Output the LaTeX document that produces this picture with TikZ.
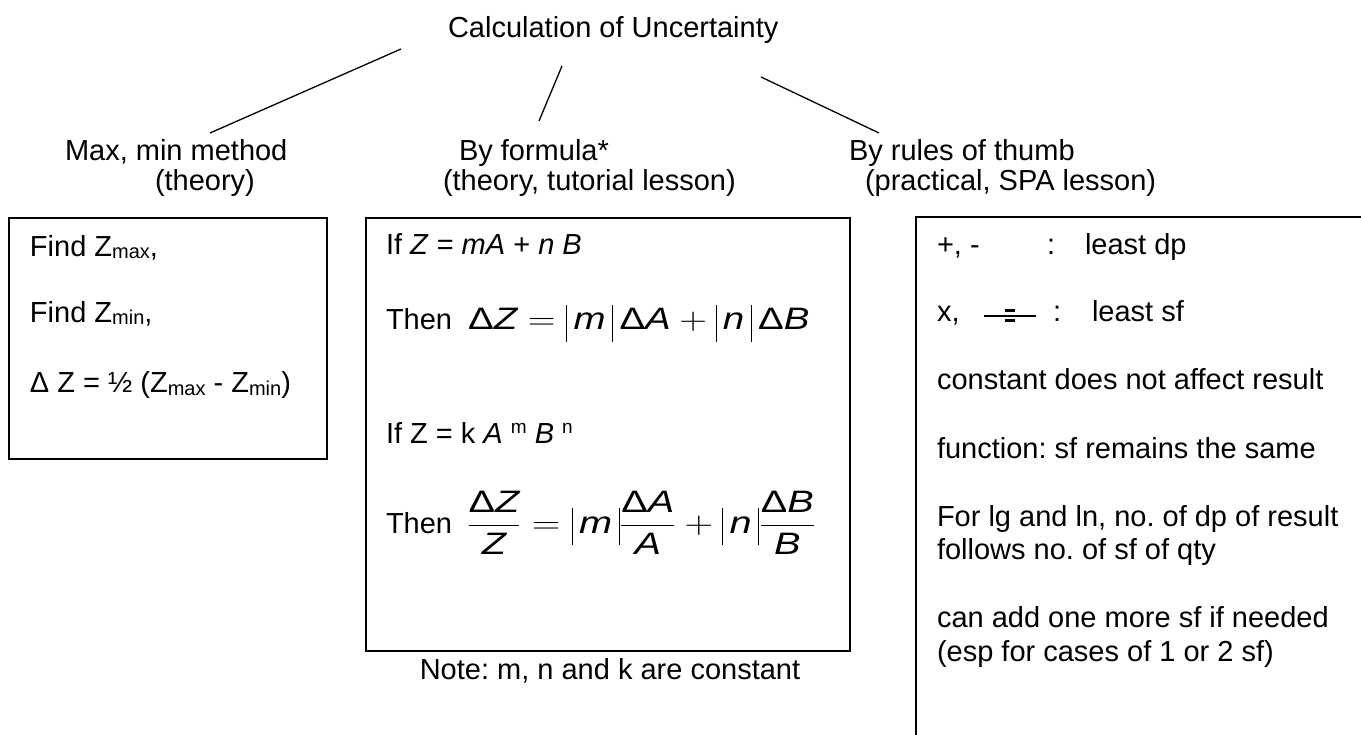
\RequirePackage{fix-cm}
\documentclass[tikz,border=0pt]{standalone}
\usepackage{graphicx}
\usepackage{fontspec}
\setmainfont{Liberation Sans}
\frenchspacing
\newcommand\sbs[1]{\raisebox{-2pt}{\fontsize{20}{20}\selectfont #1}}
\newcommand\sps[1]{\raisebox{10pt}{\fontsize{19}{19}\selectfont #1}}
\newcommand\It[1]{\hbox{\itshape #1}}
\newcommand\Dl{\hbox{Δ}}
\newcommand\vb{\rule[-12pt]{0.8pt}{37pt}}
\tikzset{
  txt/.style={inner sep=0pt, outer sep=0pt, anchor=base west, font=\fontsize{29}{33}\selectfont},
  boxst/.style={draw, line width=1.6pt, inner sep=0pt, anchor=north west},
  conn/.style={line width=1.3pt}
}
\begin{document}
\begin{tikzpicture}[x=1pt,y=-1pt]
\useasboundingbox (0,0) rectangle (1361,735);
% title and branch labels
\node[txt] (title) at (448,38) {Calculation of Uncertainty};
\node[txt] (maxmin) at (65,161) {Max, min method};
\node[txt] (maxmin2) at (155,191) {(theory)};
\node[txt] (formula) at (459,161) {By formula*};
\node[txt] (formula2) at (443,191) {(theory, tutorial lesson)};
\node[txt] (rules) at (849,161) {By rules of thumb};
\node[txt] (rules2) at (865,191) {(practical, SPA lesson)};
% connectors
\coordinate (c1a) at (401,49);  \coordinate (c1b) at (210,133);
\coordinate (c2a) at (562,66);  \coordinate (c2b) at (539,121);
\coordinate (c3a) at (761,77);  \coordinate (c3b) at (879,133);
\draw[conn] (c1a) -- (c1b);
\draw[conn] (c2a) -- (c2b);
\draw[conn] (c3a) -- (c3b);
% left box
\node[boxst, minimum width=318pt, minimum height=241pt] (boxL) at (8,217) {};
\node[txt] (l1) at (30,257) {Find Z\sbs{max},};
\node[txt] (l2) at (30,323) {Find Z\sbs{min},};
\node[txt] (l3) at (30,393) {Δ Z = ½ (Z\sbs{max} - Z\sbs{min})};
% middle box
\node[boxst, minimum width=484pt, minimum height=433pt] (boxM) at (365,217) {};
\node[txt] (m1) at (386,255) {If \textit{Z} = \textit{mA} + \textit{n B}};
\node[txt] (m2) at (386,330) {Then\hspace{16pt}\scalebox{1.24}[1]{\fontsize{31}{31}\selectfont $\Dl\It{Z}=\vb\,\It{m}\,\vb\,\Dl\It{A}+\vb\,\It{n}\,\vb\,\Dl\It{B}$}};
\node[txt] (m3) at (386,443) {If Z = k \textit{A} \sps{m} \textit{B} \sps{n}};
\node[txt] (m4) at (386,533) {Then\hspace{15pt}\scalebox{1.28}[1]{\fontsize{31}{31}\selectfont $\displaystyle\frac{\Dl\It{Z}}{\It{Z}}=\vb\,\It{m}\,\vb\frac{\Dl\It{A}}{\It{A}}+\vb\,\It{n}\,\vb\frac{\Dl\It{B}}{\It{B}}$}};
\node[txt, anchor=base] (note) at (610,679) {Note: m, n and k are constant};
% right box (open)
\draw[line width=1.6pt] (1361,217) -- (916,217) -- (916,735);
\node[txt] (r1a) at (937,255) {+, -};
\node[txt] (r1b) at (1047,255) {:};
\node[txt] (r1c) at (1085,255) {least dp};
\node[txt] (r2a) at (937,322) {x,};
\coordinate (dva) at (984,316); \coordinate (dvb) at (1036,316);
\draw[line width=1.2pt] (dva) -- (dvb);
\draw[line width=3pt] (1005,311) -- (1015,311);
\draw[line width=3pt] (1005,321) -- (1015,321);
\node[txt] (r2b) at (1053,322) {:};
\node[txt] (r2c) at (1092,322) {least sf};
\node[txt] (r3) at (937,390) {constant does not affect result};
\node[txt] (r4) at (937,458) {function: sf remains the same};
\node[txt] (r5) at (937,526) {For lg and ln, no. of dp of result};
\node[txt] (r6) at (937,559) {follows no. of sf of qty};
\node[txt] (r7) at (937,627) {can add one more sf if needed};
\node[txt] (r8) at (937,661) {(esp for cases of 1 or 2 sf)};
\end{tikzpicture}
\end{document}
